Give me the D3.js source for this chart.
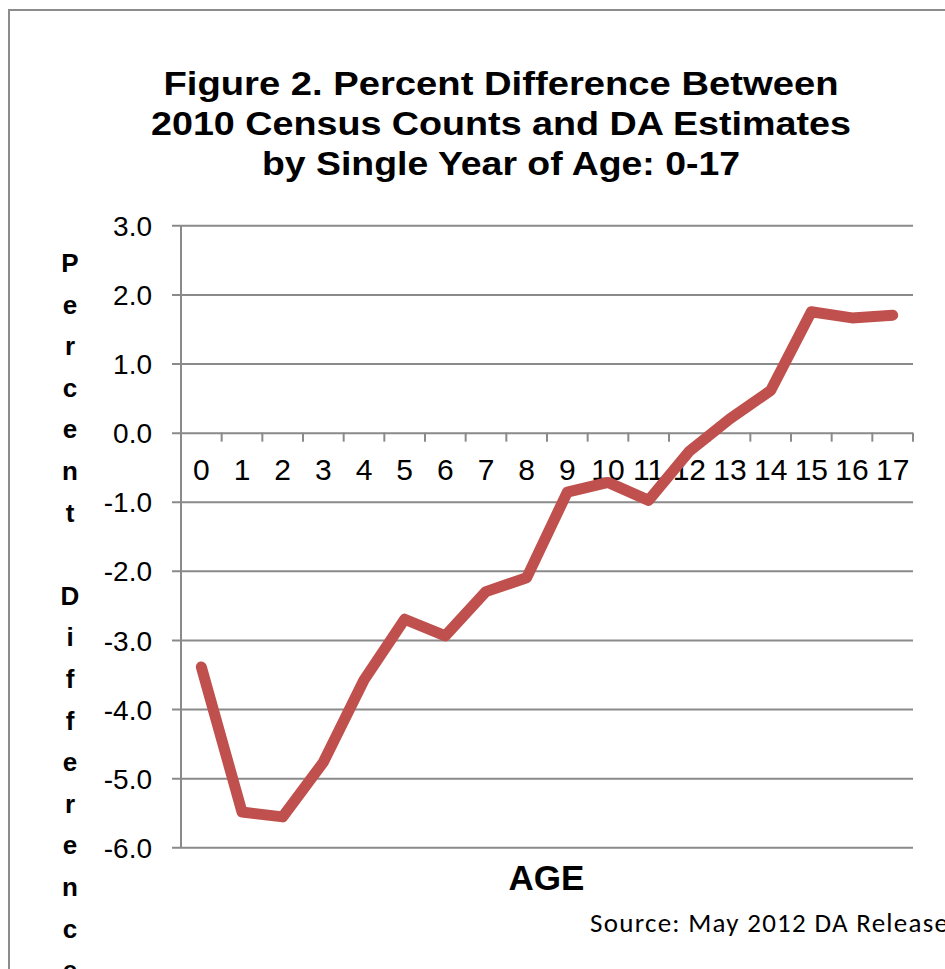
<!DOCTYPE html>
<html>
<head>
<meta charset="utf-8">
<script src="https://cdn.jsdelivr.net/npm/d3@7"></script>
<style>
  html, body { margin: 0; padding: 0; background: #fff; }
  svg { display: block; }
</style>
</head>
<body>
<svg id="chart" width="945" height="969"></svg>
<script>
// Single year of age, 0 through 17
const ages = ["0","1","2","3","4","5","6","7","8","9","10","11","12","13","14","15","16","17"];
// Percent difference between 2010 Census counts and DA estimates
const pctDiff = [-3.39, -5.49, -5.56, -4.77, -3.58, -2.70, -2.94, -2.30, -2.10, -0.86, -0.72, -0.98, -0.27, 0.20, 0.61, 1.75, 1.66, 1.70];
const yTicks = [3, 2, 1, 0, -1, -2, -3, -4, -5, -6];
const titleLines = [
  "Figure 2. Percent  Difference Between",
  "2010 Census Counts and DA Estimates",
  "by Single Year of Age: 0-17"
];
const yTitle = "Percent Difference";
const xTitle = "AGE";
const sourceNote = "Source: May 2012 DA Release";

(function drawChart() {
  const svg = d3.select("#chart");
  const gridColor = "#8a8a8a";
  const lineColor = "#C0504D";

  // Outer frame (runs off the right and bottom edges)
  svg.append("rect")
    .attr("x", 9).attr("y", 10)
    .attr("width", 1000).attr("height", 1000)
    .attr("fill", "none").attr("stroke", "#8c8c8c").attr("stroke-width", 2);

  // Title
  const title = svg.append("g")
    .attr("font-family", "'Liberation Sans', Arial, sans-serif")
    .attr("font-weight", "bold").attr("font-size", 34)
    .attr("fill", "#000").attr("text-anchor", "middle");
  const titleWidths = [675, 700, 478];
  titleLines.forEach((t, i) => {
    title.append("text")
      .attr("x", 501).attr("y", 95 + i * 40)
      .attr("textLength", titleWidths[i])
      .attr("lengthAdjust", "spacingAndGlyphs")
      .text(t);
  });

  // Plot area
  const plotLeft = 181, plotRight = 913, plotTop = 225.3, plotBottom = 847.3;

  const y = d3.scaleLinear().domain([-6, 3]).range([plotBottom, plotTop]);
  const x = d3.scaleBand().domain(ages).range([plotLeft, plotRight]).padding(0);
  const xi = d3.scaleLinear().domain([0, ages.length]).range([plotLeft, plotRight]);

  // Horizontal gridlines with left-side ticks and value labels
  const yAxis = d3.axisLeft(y)
    .tickValues(yTicks)
    .tickSize(-(plotRight - 172))
    .tickPadding(20)
    .tickFormat(d => d.toFixed(1));

  const gy = svg.append("g")
    .attr("transform", "translate(172,0)")
    .call(yAxis);
  gy.select(".domain").remove();
  gy.selectAll(".tick line").attr("stroke", gridColor).attr("stroke-width", 2);
  gy.selectAll(".tick text")
    .attr("font-family", "'Liberation Sans', Arial, sans-serif")
    .attr("font-size", 28).attr("fill", "#000")
    .attr("dy", "0.36em");

  // Vertical value axis line
  svg.append("line")
    .attr("x1", plotLeft).attr("x2", plotLeft)
    .attr("y1", plotTop).attr("y2", plotBottom)
    .attr("stroke", gridColor).attr("stroke-width", 2);

  // Category axis along zero: tick marks at category boundaries
  const zeroY = y(0);
  svg.append("g").selectAll("line")
    .data(d3.range(1, ages.length + 1))
    .join("line")
    .attr("x1", d => xi(d)).attr("x2", d => xi(d))
    .attr("y1", zeroY).attr("y2", zeroY + 9)
    .attr("stroke", gridColor).attr("stroke-width", 2);

  // Category labels
  const xAxis = d3.axisBottom(x).tickSize(0).tickPadding(0);
  const gx = svg.append("g")
    .attr("transform", `translate(0,${zeroY})`)
    .call(xAxis);
  gx.select(".domain").remove();
  gx.selectAll(".tick text")
    .attr("font-family", "'Liberation Sans', Arial, sans-serif")
    .attr("font-size", 30).attr("fill", "#000")
    .attr("dy", null).attr("y", 47);

  // Data line
  const line = d3.line()
    .x((d, i) => x(ages[i]) + x.bandwidth() / 2)
    .y(d => y(d));

  svg.append("path")
    .datum(pctDiff)
    .attr("d", line)
    .attr("fill", "none")
    .attr("stroke", lineColor)
    .attr("stroke-width", 11)
    .attr("stroke-linecap", "round")
    .attr("stroke-linejoin", "round");

  // Vertical, letter-stacked value-axis title
  const yt = svg.append("g")
    .attr("font-family", "'Liberation Sans', Arial, sans-serif")
    .attr("font-weight", "bold").attr("font-size", 26)
    .attr("fill", "#000").attr("text-anchor", "middle");
  Array.from(yTitle).forEach((ch, i) => {
    if (ch === " ") return;
    yt.append("text")
      .attr("x", 70)
      .attr("y", 272 + i * 41.6)
      .text(ch);
  });

  // Category axis title
  svg.append("text")
    .attr("x", 546.5).attr("y", 890)
    .attr("text-anchor", "middle")
    .attr("font-family", "'Liberation Sans', Arial, sans-serif")
    .attr("font-weight", "bold").attr("font-size", 35)
    .attr("fill", "#000")
    .text(xTitle);

  // Source note
  svg.append("text")
    .attr("x", 590).attr("y", 932)
    .attr("font-family", "Carlito, Lato, 'Open Sans', sans-serif")
    .attr("font-size", 27)
    .attr("fill", "#000")
    .attr("textLength", 358)
    .attr("lengthAdjust", "spacing")
    .text(sourceNote);
})();
</script>
</body>
</html>
